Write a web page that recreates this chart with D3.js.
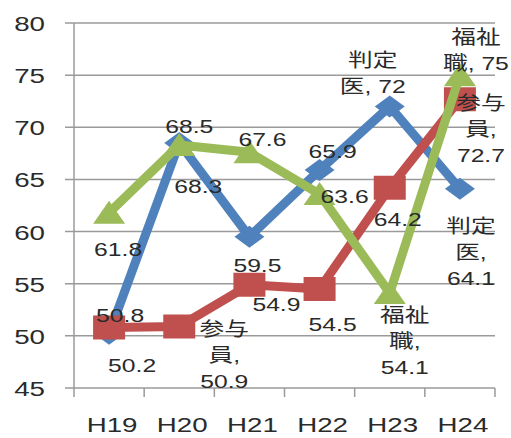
<!DOCTYPE html>
<html>
<head>
<meta charset="utf-8">
<script src="https://cdn.jsdelivr.net/npm/d3@7"></script>
<style>
  body { margin: 0; background: #fff; }
  text { font-family: "Liberation Sans", Arial, "Noto Sans CJK JP", sans-serif; fill: #2a2a2a; }
</style>
</head>
<body>
<div id="chart"></div>
<script>
var years = ["H19", "H20", "H21", "H22", "H23", "H24"];
var seriesNames = ["判定医", "参与員", "福祉職"];
var hanteii = [50.2, 68.5, 59.5, 65.9, 72, 64.1];
var sanyoin = [50.8, 50.9, 54.9, 54.5, 64.2, 72.7];
var fukushi = [61.8, 68.3, 67.6, 63.6, 54.1, 75];
var yTicks = [45, 50, 55, 60, 65, 70, 75, 80];

var colors = ["#4f81bd", "#c0504d", "#9bbb59"];
var shapes = ["diamond", "square", "triangle"];

// label placement per point: dx, dy (first baseline), mode (0 value, 2 two lines, 3 three lines)
var labelPlace = [
  [[23, 38, 0], [10, -10, 0], [8, 35, 0], [13, -12, 0], [-17, -39, 2], [11, 44, 3]],
  [[11, -6, 0], [45, 10, 3], [27, 26, 0], [13, 42, 0], [8, 38, 0], [21, 11, 3]],
  [[9, 43, 0], [19, 48, 0], [13, -6, 0], [25, 9, 0], [15, 29, 3], [16, -31, 2]]
];

var width = 511, height = 438;
var svg = d3.select("#chart").append("svg")
    .attr("width", width).attr("height", height);

var x = d3.scaleBand().domain(years).range([74, 495]);
var y = d3.scaleLinear().domain([45, 80]).range([388, 23]);
var cx = function(d) { return x(d) + x.bandwidth() / 2; };

// grid + y labels
svg.selectAll(".grid").data(yTicks).enter().append("line")
    .attr("x1", 65).attr("x2", 495)
    .attr("y1", function(d) { return y(d); })
    .attr("y2", function(d) { return y(d); })
    .style("stroke", "#9a9a9a").style("stroke-width", 1.5);

svg.selectAll(".ylab").data(yTicks).enter().append("text")
    .attr("transform", function(d) { return "translate(45," + (y(d) + 8) + ") scale(1.32,1)"; })
    .attr("text-anchor", "end")
    .style("font-size", "21px")
    .text(function(d) { return d; });

// axes
svg.append("line")
    .attr("x1", 74).attr("x2", 74).attr("y1", y(80)).attr("y2", y(45))
    .style("stroke", "#9a9a9a").style("stroke-width", 1.5);

var bounds = years.map(function(d) { return x(d); }).concat([x.range()[1]]);
svg.selectAll(".xtick").data(bounds).enter().append("line")
    .attr("x1", function(d) { return d; }).attr("x2", function(d) { return d; })
    .attr("y1", y(45)).attr("y2", y(45) + 9)
    .style("stroke", "#9a9a9a").style("stroke-width", 1.5);

svg.selectAll(".xlab").data(years).enter().append("text")
    .attr("transform", function(d) { return "translate(" + (cx(d) + 3) + ",432) scale(1.32,1)"; })
    .attr("text-anchor", "middle")
    .style("font-size", "21px")
    .text(function(d) { return d; });

// series
var all = [hanteii, sanyoin, fukushi];
var line = d3.line()
    .x(function(d, i) { return cx(years[i]); })
    .y(function(d) { return y(d); });

function markerPath(shape) {
  if (shape == "diamond") return "M0,-11 L15,0 L0,11 L-15,0 Z";
  if (shape == "square") return "M-16,-12 L16,-12 L16,12 L-16,12 Z";
  return "M0,-12 L16,11 L-16,11 Z";
}

all.forEach(function(vals, s) {
  svg.append("path")
      .attr("d", line(vals))
      .style("fill", "none")
      .style("stroke", colors[s])
      .style("stroke-width", 9)
      .style("stroke-linejoin", "round");

  svg.selectAll(".m" + s).data(vals).enter().append("path")
      .attr("transform", function(d, i) { return "translate(" + cx(years[i]) + "," + y(d) + ")"; })
      .attr("d", markerPath(shapes[s]))
      .style("fill", colors[s]);
});

// data labels
all.forEach(function(vals, s) {
  var name = seriesNames[s];
  vals.forEach(function(v, i) {
    var p = labelPlace[s][i];
    var lines;
    if (p[2] == 2) lines = [name.slice(0, 2), name.slice(2) + ", " + v];
    else if (p[2] == 3) lines = [name.slice(0, 2), name.slice(2) + ",", String(v)];
    else lines = [String(v)];

    var g = svg.append("g")
        .attr("transform", "translate(" + (cx(years[i]) + p[0]) + "," + (y(v) + p[1]) + ") scale(1.3,1)");
    g.selectAll("text").data(lines).enter().append("text")
        .attr("y", function(d, k) { return k * 26; })
        .attr("text-anchor", "middle")
        .style("font-size", "19px")
        .text(function(d) { return d; });
  });
});
</script>
</body>
</html>
